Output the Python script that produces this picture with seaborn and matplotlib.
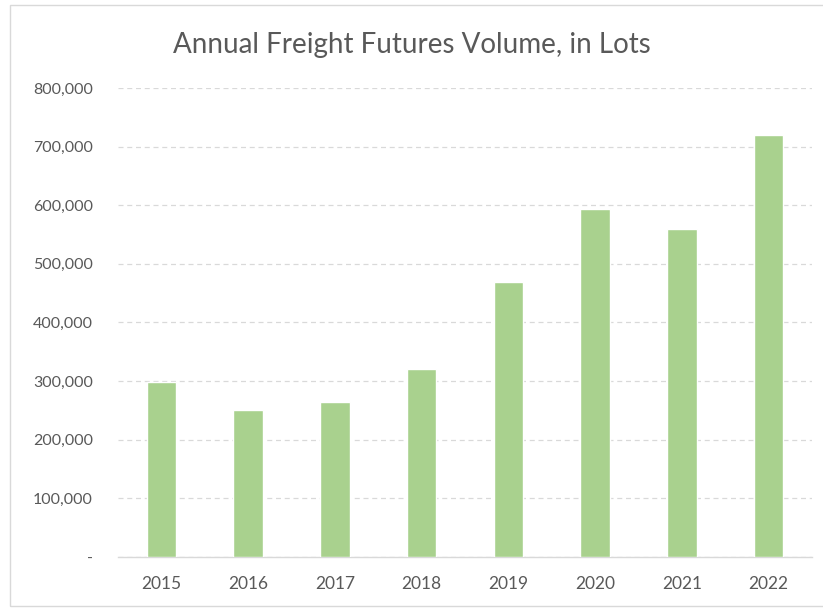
import matplotlib
matplotlib.use("Agg")
import matplotlib.pyplot as plt
import matplotlib.ticker as mticker
import pandas as pd
import seaborn as sns

# data
years = ["2015", "2016", "2017", "2018", "2019", "2020", "2021", "2022"]
lots = [298000, 250000, 265000, 321000, 469000, 594000, 559000, 719000]

df = pd.DataFrame({"year": years, "lots": lots})

sns.set_theme(style="white")
plt.rcParams["font.family"] = ["Lato", "DejaVu Sans"]

W, H = 823, 608
fig = plt.figure(figsize=(W / 100, H / 100), dpi=100)
ax = fig.add_axes([118 / W, 1 - 557 / H, 694 / W, 469 / H])

sns.barplot(data=df, x="year", y="lots", color="#a9d18e", saturation=1,
            width=0.34, ax=ax, zorder=3)

ax.set_ylim(0, 800000)
ax.set_yticks(range(0, 800001, 100000))
ax.yaxis.set_major_formatter(
    mticker.FuncFormatter(lambda v, p: "-" if v == 0 else f"{int(v):,}"))
ax.grid(axis="y", color="#d9d9d9", linestyle=(0, (4, 3)), linewidth=0.9, zorder=0)
ax.set_axisbelow(True)

for side in ["top", "right", "left"]:
    ax.spines[side].set_visible(False)
ax.spines["bottom"].set_color("#d9d9d9")
ax.spines["bottom"].set_linewidth(1.0)

ax.tick_params(axis="x", length=0, labelsize=12.5, colors="#595959", pad=14)
ax.tick_params(axis="y", length=0, labelsize=11.5, colors="#595959", pad=18)
ax.set_xlabel("")
ax.set_ylabel("")

fig.text(412 / W, 1 - 45 / H, "Annual Freight Futures Volume, in Lots",
         ha="center", va="center", fontsize=20, color="#595959")

# light frame round the chart area (top, left, bottom)
fig.patches.append(plt.Rectangle((10 / W, 2 / H), 1.0, 1 - 7 / H,
                                 transform=fig.transFigure, fill=False,
                                 edgecolor="#d9d9d9", linewidth=1.0))

fig.savefig("out.png", dpi=100)
